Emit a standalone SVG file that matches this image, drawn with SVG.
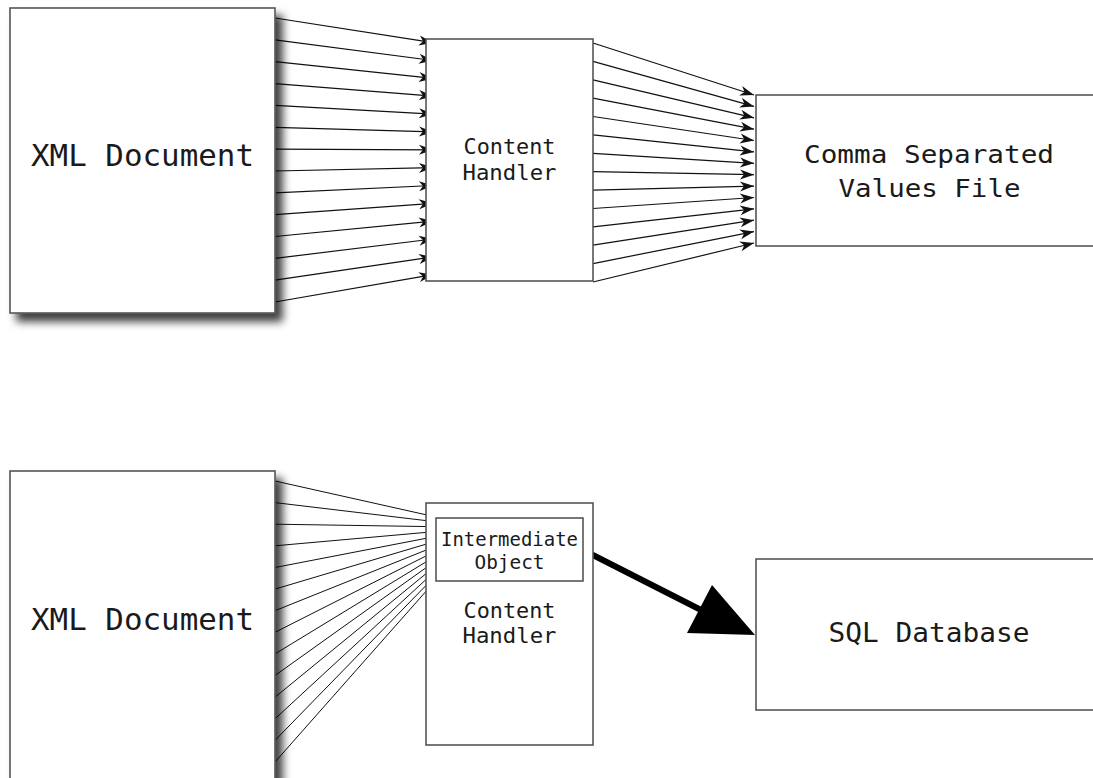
<svg xmlns="http://www.w3.org/2000/svg" width="1093" height="778" viewBox="0 0 1093 778">
<style>
.box{fill:#fff;stroke:#555;stroke-width:1.6}
.t{font-family:"DejaVu Sans Mono","Liberation Mono",monospace;fill:#1a1a1a;text-anchor:middle}
.ca{stroke:#111;stroke-width:1.2;fill:none;marker-end:url(#ah)}
.cs{stroke:#111;stroke-width:1;fill:none;marker-end:url(#ahs)}
</style>
<defs>
<filter id="sh" x="-10%" y="-10%" width="130%" height="130%">
<feDropShadow dx="7" dy="8" stdDeviation="4" flood-color="#000" flood-opacity="0.75"/>
</filter>
<marker id="ah" markerUnits="userSpaceOnUse" markerWidth="20" markerHeight="12" viewBox="-15 -6 16 12" refX="0" refY="0" orient="auto">
<path d="M0,0 L-14,-5 L-10,0 L-14,5 Z" fill="#111"/>
</marker>
<marker id="ahs" markerUnits="userSpaceOnUse" markerWidth="10" markerHeight="6" viewBox="-8 -3 9 6" refX="0" refY="0" orient="auto">
<path d="M0,0 L-7,-2 L-5,0 L-7,2 Z" fill="#111"/>
</marker>
</defs>
<rect width="1093" height="778" fill="#fff"/>

<g id="connectors">
<g id="xml1-to-ch1">
<line class="ca" x1="275" y1="18" x2="433" y2="42.7"/>
<line class="ca" x1="275" y1="39.9" x2="433" y2="60.5"/>
<line class="ca" x1="275" y1="61.7" x2="433" y2="78.4"/>
<line class="ca" x1="275" y1="83.6" x2="433" y2="96.2"/>
<line class="ca" x1="275" y1="105.4" x2="433" y2="114.1"/>
<line class="ca" x1="275" y1="127.3" x2="433" y2="131.9"/>
<line class="ca" x1="275" y1="149.1" x2="433" y2="149.8"/>
<line class="ca" x1="275" y1="171" x2="433" y2="167.6"/>
<line class="ca" x1="275" y1="192.8" x2="433" y2="185.5"/>
<line class="ca" x1="275" y1="214.7" x2="433" y2="203.3"/>
<line class="ca" x1="275" y1="236.5" x2="433" y2="221.2"/>
<line class="ca" x1="275" y1="258.4" x2="433" y2="239"/>
<line class="ca" x1="275" y1="280.2" x2="433" y2="256.9"/>
<line class="ca" x1="275" y1="302" x2="433" y2="274.7"/>
</g>
<g id="ch1-to-csv">
<line class="ca" x1="593" y1="43" x2="754" y2="95"/>
<line class="ca" x1="593" y1="61.4" x2="754" y2="106.4"/>
<line class="ca" x1="593" y1="79.8" x2="754" y2="117.8"/>
<line class="ca" x1="593" y1="98.1" x2="754" y2="129.2"/>
<line class="ca" x1="593" y1="116.5" x2="754" y2="140.5"/>
<line class="ca" x1="593" y1="134.9" x2="754" y2="151.9"/>
<line class="ca" x1="593" y1="153.3" x2="754" y2="163.3"/>
<line class="ca" x1="593" y1="171.7" x2="754" y2="174.7"/>
<line class="ca" x1="593" y1="190.1" x2="754" y2="186.1"/>
<line class="ca" x1="593" y1="208.5" x2="754" y2="197.5"/>
<line class="ca" x1="593" y1="226.8" x2="754" y2="208.8"/>
<line class="ca" x1="593" y1="245.2" x2="754" y2="220.2"/>
<line class="ca" x1="593" y1="263.6" x2="754" y2="231.6"/>
<line class="ca" x1="593" y1="282" x2="754" y2="243"/>
</g>
<g id="xml2-to-io">
<line class="cs" x1="275" y1="481" x2="436" y2="517"/>
<line class="cs" x1="275" y1="502.6" x2="436" y2="521.8"/>
<line class="cs" x1="275" y1="524.2" x2="436" y2="526.7"/>
<line class="cs" x1="275" y1="545.8" x2="436" y2="531.5"/>
<line class="cs" x1="275" y1="567.5" x2="436" y2="536.4"/>
<line class="cs" x1="275" y1="589.1" x2="436" y2="541.2"/>
<line class="cs" x1="275" y1="610.7" x2="436" y2="546.1"/>
<line class="cs" x1="275" y1="632.3" x2="436" y2="550.9"/>
<line class="cs" x1="275" y1="653.9" x2="436" y2="555.8"/>
<line class="cs" x1="275" y1="675.5" x2="436" y2="560.6"/>
<line class="cs" x1="275" y1="697.2" x2="436" y2="565.5"/>
<line class="cs" x1="275" y1="718.8" x2="436" y2="570.3"/>
<line class="cs" x1="275" y1="740.4" x2="436" y2="575.2"/>
<line class="cs" x1="275" y1="762" x2="436" y2="580"/>
</g>
<g id="io-to-sql">
<line x1="583" y1="550" x2="705" y2="612" stroke="#000" stroke-width="6"/>
<polygon points="755,635 712,585 687,633" fill="#000"/>
</g>
</g>

<g id="xml-doc-1">
<rect class="box" x="10" y="8" width="265" height="305" filter="url(#sh)"/>
<text class="t" x="142.5" y="166" font-size="31" textLength="223" lengthAdjust="spacingAndGlyphs">XML Document</text>
</g>
<g id="content-handler-1">
<rect class="box" x="426" y="39" width="167" height="242"/>
<text class="t" x="509.5" y="154" font-size="22" textLength="92" lengthAdjust="spacingAndGlyphs">Content</text>
<text class="t" x="509.5" y="180" font-size="22" textLength="94" lengthAdjust="spacingAndGlyphs">Handler</text>
</g>
<g id="csv-file">
<rect class="box" x="756" y="95" width="345" height="151"/>
<text class="t" x="929" y="163" font-size="25" textLength="250" lengthAdjust="spacingAndGlyphs">Comma Separated</text>
<text class="t" x="929.5" y="197" font-size="25" textLength="182" lengthAdjust="spacingAndGlyphs">Values File</text>
</g>

<g id="xml-doc-2">
<rect class="box" x="10" y="471" width="265" height="315" filter="url(#sh)"/>
<text class="t" x="142.5" y="630" font-size="31" textLength="223" lengthAdjust="spacingAndGlyphs">XML Document</text>
</g>
<g id="content-handler-2">
<rect class="box" x="426" y="503" width="167" height="242"/>
<text class="t" x="509.5" y="618" font-size="22" textLength="92" lengthAdjust="spacingAndGlyphs">Content</text>
<text class="t" x="509.5" y="643" font-size="22" textLength="94" lengthAdjust="spacingAndGlyphs">Handler</text>
</g>
<g id="intermediate-object">
<rect class="box" x="436" y="518" width="147" height="63"/>
<text class="t" x="509.5" y="546" font-size="19" textLength="137" lengthAdjust="spacingAndGlyphs">Intermediate</text>
<text class="t" x="509.5" y="569" font-size="19" textLength="70" lengthAdjust="spacingAndGlyphs">Object</text>
</g>
<g id="sql-database">
<rect class="box" x="756" y="559" width="345" height="151"/>
<text class="t" x="929" y="642" font-size="26" textLength="201" lengthAdjust="spacingAndGlyphs">SQL Database</text>
</g>
</svg>
